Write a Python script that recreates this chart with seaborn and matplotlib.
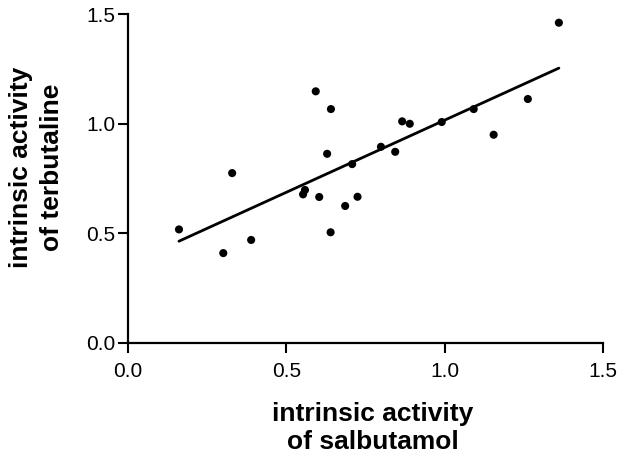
import numpy as np
import pandas as pd
import matplotlib
matplotlib.use("Agg")
import matplotlib.pyplot as plt
import seaborn as sns

# intrinsic activity values
salbutamol = [0.161, 0.301, 0.329, 0.389, 0.553, 0.559, 0.593, 0.604, 0.629, 0.640,
              0.641, 0.686, 0.708, 0.725, 0.799, 0.844, 0.866, 0.890, 0.991, 1.092,
              1.155, 1.263, 1.361]
terbutaline = [0.518, 0.410, 0.775, 0.470, 0.678, 0.698, 1.148, 0.666, 0.863, 0.505,
               1.067, 0.625, 0.816, 0.667, 0.895, 0.872, 1.011, 1.000, 1.008, 1.067,
               0.950, 1.113, 1.461]
ticks = [0.0, 0.5, 1.0, 1.5]

df = pd.DataFrame({"salbutamol": salbutamol, "terbutaline": terbutaline})

sns.set_style("ticks")
plt.rcParams["font.family"] = ["Liberation Sans", "DejaVu Sans"]
plt.rcParams["text.color"] = "black"
plt.rcParams["axes.labelcolor"] = "black"
plt.rcParams["xtick.color"] = "black"
plt.rcParams["ytick.color"] = "black"

fig = plt.figure(figsize=(6.4, 4.57), dpi=100)
ax = fig.add_axes([0.2, 0.2495, 0.742, 0.7195])

sns.regplot(data=df, x="salbutamol", y="terbutaline", ci=None, ax=ax,
            scatter_kws=dict(s=34, color="black", edgecolor="none", alpha=1),
            line_kws=dict(color="black", lw=2))

ax.set_xlim(0, 1.5)
ax.set_ylim(0, 1.5)
ax.set_xticks(ticks)
ax.set_yticks(ticks)
ax.set_xticklabels([f"{t:.1f}" for t in ticks], fontsize=15)
ax.set_yticklabels([f"{t:.1f}" for t in ticks], fontsize=15)
ax.tick_params(direction="out", length=7, width=1.5, colors="black")
ax.tick_params(axis="x", pad=7)
ax.tick_params(axis="y", pad=2)
for s in ["left", "bottom"]:
    ax.spines[s].set_linewidth(1.6)
    ax.spines[s].set_color("black")
sns.despine(ax=ax)

ax.set_xlabel("intrinsic activity\nof salbutamol", fontsize=19, fontweight="bold",
              labelpad=15, linespacing=1.2)
ax.set_ylabel("intrinsic activity\nof terbutaline", fontsize=19, fontweight="bold",
              labelpad=16, linespacing=1.36)
# labels sit a little off-centre in the original
ax.xaxis.label.set_x(0.516)
ax.yaxis.label.set_y(0.533)

fig.savefig("out.png", dpi=100)
